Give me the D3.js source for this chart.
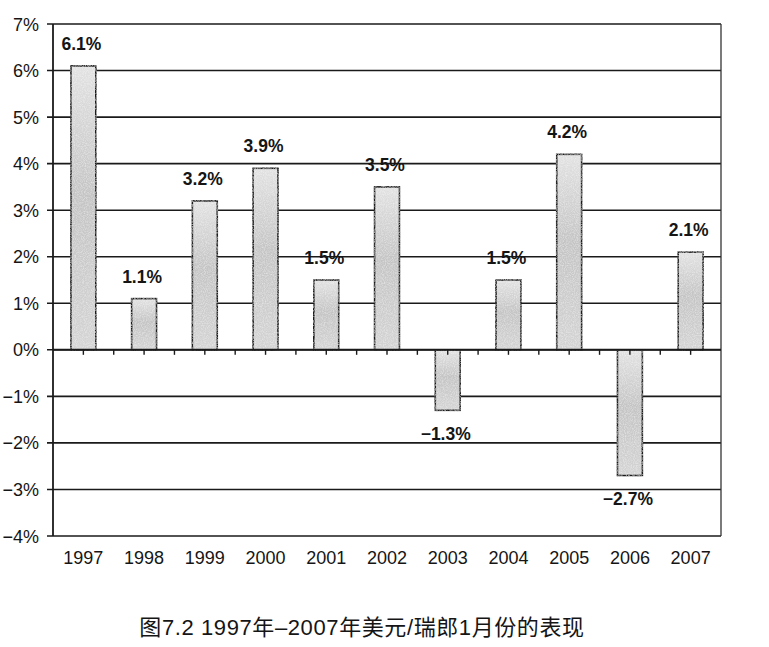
<!DOCTYPE html>
<html>
<head>
<meta charset="utf-8">
<script src="https://cdn.jsdelivr.net/npm/d3@7"></script>
<style>
  body { margin: 0; background: #fff; }
  text { font-family: "Liberation Sans", Arial, sans-serif; fill: #151515; }
</style>
</head>
<body>
<div id="chart"></div>
<script>
    // January performance of USD/CHF, 1997-2007
    const years = ["1997","1998","1999","2000","2001","2002","2003","2004","2005","2006","2007"]
    const changes = [6.1, 1.1, 3.2, 3.9, 1.5, 3.5, -1.3, 1.5, 4.2, -2.7, 2.1]
    const valueLabels = ["6.1%","1.1%","3.2%","3.9%","1.5%","3.5%","\u22121.3%","1.5%","4.2%","\u22122.7%","2.1%"]
    const yTicks = [-4, -3, -2, -1, 0, 1, 2, 3, 4, 5, 6, 7]
    const caption = "图7.2 1997年\u20132007年美元/瑞郎1月份的表现"

    const width = 769
    const height = 647
    const plotLeft = 53, plotRight = 721, plotTop = 24, plotBottom = 536

    const svg = d3.select("#chart")
        .append("svg")
        .attr("width", width)
        .attr("height", height)

    // grey mottled bar fill
    const defs = svg.append("defs")
    const grad = defs.append("linearGradient")
        .attr("id", "barfill")
        .attr("x1", 0).attr("y1", 0).attr("x2", 0).attr("y2", 1)
    grad.append("stop").attr("offset", "0%").attr("stop-color", "#e2e2e2")
    grad.append("stop").attr("offset", "45%").attr("stop-color", "#c4c4c4")
    grad.append("stop").attr("offset", "100%").attr("stop-color", "#d4d4d4")

    const noise = defs.append("filter").attr("id", "grain")
    noise.append("feTurbulence")
        .attr("type", "fractalNoise")
        .attr("baseFrequency", 0.9)
        .attr("numOctaves", 2)
        .attr("result", "n")
    noise.append("feColorMatrix")
        .attr("in", "n")
        .attr("type", "matrix")
        .attr("values", "0 0 0 0 1  0 0 0 0 1  0 0 0 0 1  0 0 0 -0.9 0.55")
        .attr("result", "speck")
    noise.append("feComposite")
        .attr("in", "speck").attr("in2", "SourceGraphic")
        .attr("operator", "in").attr("result", "sp")
    noise.append("feMerge").call(m => {
        m.append("feMergeNode").attr("in", "SourceGraphic")
        m.append("feMergeNode").attr("in", "sp")
    })

    const x = d3.scaleBand()
        .domain(years)
        .range([plotLeft, plotRight])
        .paddingInner(0.59)
        .paddingOuter(0.295)

    const xOuter = d3.scaleBand()
        .domain(years)
        .range([plotLeft, plotRight])

    const y = d3.scaleLinear()
        .domain([-4, 7])
        .range([plotBottom, plotTop])

    // horizontal gridlines
    svg.append("g")
        .selectAll("line")
        .data(yTicks)
        .join("line")
        .attr("x1", plotLeft - 6)
        .attr("x2", plotRight)
        .attr("y1", d => y(d))
        .attr("y2", d => y(d))
        .style("stroke", "#1a1a1a")
        .style("stroke-width", 1.6)

    // left axis and right border
    svg.append("line")
        .attr("x1", plotLeft).attr("x2", plotLeft)
        .attr("y1", plotTop).attr("y2", plotBottom)
        .style("stroke", "#1a1a1a").style("stroke-width", 1.8)
    svg.append("line")
        .attr("x1", plotRight).attr("x2", plotRight)
        .attr("y1", plotTop).attr("y2", plotBottom)
        .style("stroke", "#333").style("stroke-width", 1.3)

    // y labels
    svg.append("g")
        .selectAll("text")
        .data(yTicks)
        .join("text")
        .attr("x", 39)
        .attr("y", d => y(d) + 6.5)
        .attr("text-anchor", "end")
        .style("font-size", "18px")
        .text(d => (d < 0 ? "\u2212" + Math.abs(d) : d) + "%")

    // bars
    svg.append("g")
        .selectAll("rect")
        .data(changes)
        .join("rect")
        .attr("x", (d, i) => x(years[i]))
        .attr("width", x.bandwidth())
        .attr("y", d => y(Math.max(0, d)))
        .attr("height", d => Math.abs(y(d) - y(0)))
        .attr("fill", "url(#barfill)")
        .attr("filter", "url(#grain)")
        .style("stroke", "#1a1a1a")
        .style("stroke-width", 1.6)

    // zero axis with ticks at band centres and boundaries
    svg.append("line")
        .attr("x1", plotLeft).attr("x2", plotRight)
        .attr("y1", y(0)).attr("y2", y(0))
        .style("stroke", "#1a1a1a").style("stroke-width", 2)

    const tickXs = []
    years.forEach((yr, i) => {
        tickXs.push(xOuter(yr) + xOuter.bandwidth() / 2)
        if (i > 0) tickXs.push(xOuter(yr))
    })
    svg.append("g")
        .selectAll("line")
        .data(tickXs)
        .join("line")
        .attr("x1", d => d).attr("x2", d => d)
        .attr("y1", y(0)).attr("y2", y(0) + 5)
        .style("stroke", "#1a1a1a").style("stroke-width", 1.4)

    // value labels
    svg.append("g")
        .selectAll("text")
        .data(changes)
        .join("text")
        .attr("x", (d, i) => x(years[i]) + x.bandwidth() / 2 - 2)
        .attr("y", d => d >= 0 ? y(d) - 16 : y(d) + 30)
        .attr("text-anchor", "middle")
        .style("font-size", "17.5px")
        .style("font-weight", "bold")
        .text((d, i) => valueLabels[i])

    // year labels
    svg.append("g")
        .selectAll("text")
        .data(years)
        .join("text")
        .attr("x", d => x(d) + x.bandwidth() / 2)
        .attr("y", 564)
        .attr("text-anchor", "middle")
        .style("font-size", "18px")
        .text(d => d)

    svg.append("text")
        .attr("x", 362)
        .attr("y", 635)
        .attr("text-anchor", "middle")
        .style("font-family", "'Liberation Sans', 'Noto Sans CJK SC', sans-serif")
        .style("font-size", "22px")
        .style("letter-spacing", "0.6px")
        .text(caption)
</script>
</body>
</html>
